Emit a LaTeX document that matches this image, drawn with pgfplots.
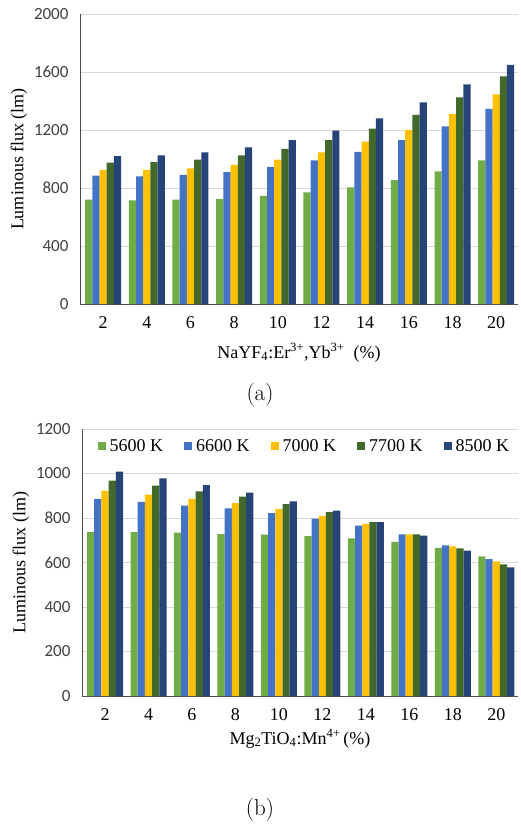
\documentclass[border=0pt]{standalone}
\usepackage{fontspec}
\usepackage{pgfplots}
\pgfplotsset{compat=1.18}
\newfontfamily\carlito{Carlito}
\newfontfamily\tnr{Liberation Serif}
\definecolor{cgreen}{HTML}{70AD47}
\definecolor{cblue}{HTML}{4472C4}
\definecolor{cyellow}{HTML}{FFC000}
\definecolor{cdgreen}{HTML}{43682B}
\definecolor{cnavy}{HTML}{264478}
\definecolor{tickgray}{HTML}{404040}
\pgfplotsset{
  lumbars/.style={
    scale only axis,
    anchor=south west,
    ybar=0pt, bar width=7.2pt,
    xmin=0.47, xmax=10.5, ymin=0,
    xtick={1,...,10}, xticklabels={2,4,6,8,10,12,14,16,18,20},
    axis x line*=bottom, axis y line*=left,
    axis line style={draw=black!70, line width=0.8pt},
    every outer x axis line/.append style={-}, every outer y axis line/.append style={-},
    major tick length=0pt,
    ymajorgrids, major grid style={draw=black!15, line width=0.8pt},
    /pgf/number format/1000 sep={},
    /pgf/number format/assume math mode=true,
    yticklabel style={font=\carlito\fontsize{17}{17}\selectfont, text=tickgray, xshift=-8pt},
    xticklabel style={font=\tnr\fontsize{18}{18}\selectfont, yshift=-9pt},
    ylabel style={font=\tnr\fontsize{18}{20}\selectfont},
    ylabel={Luminous flux (lm)},
    legend image code/.code={\fill[##1] (0pt,-4pt) rectangle (8pt,4pt);},
  },
}
\begin{document}
\begin{tikzpicture}
\useasboundingbox (0pt,0pt) rectangle (520pt,-830pt);
\begin{axis}[lumbars, at={(80pt,-304pt)}, width=438pt, height=290pt,
  ymax=2000, ytick={0,400,...,2000},
  xlabel style={font=\tnr\fontsize{18}{20}\selectfont, yshift=-8pt},
  xlabel={NaYF\textsubscript{4}:Er\textsuperscript{3+},Yb\textsuperscript{3+}\ \ (\%)}]
\addplot[fill=cgreen, draw=none] coordinates {(1,720) (2,715) (3,720) (4,725) (5,745) (6,770) (7,805) (8,855) (9,915) (10,990)};
\addplot[fill=cblue, draw=none] coordinates {(1,885) (2,880) (3,890) (4,910) (5,945) (6,990) (7,1050) (8,1130) (9,1225) (10,1345)};
\addplot[fill=cyellow, draw=none] coordinates {(1,925) (2,925) (3,935) (4,960) (5,995) (6,1045) (7,1120) (8,1200) (9,1310) (10,1445)};
\addplot[fill=cdgreen, draw=none] coordinates {(1,975) (2,978) (3,995) (4,1025) (5,1070) (6,1130) (7,1210) (8,1305) (9,1425) (10,1570)};
\addplot[fill=cnavy, draw=none] coordinates {(1,1020) (2,1025) (3,1045) (4,1080) (5,1130) (6,1195) (7,1280) (8,1390) (9,1515) (10,1650)};
\end{axis}
\node[font=\fontsize{23}{26}\selectfont] at (260pt,-395pt) {(a)};
\begin{axis}[lumbars, at={(82pt,-696pt)}, width=436pt, height=267pt,
  ymax=1200, ytick={0,200,...,1200},
  xlabel style={font=\tnr\fontsize{18}{20}\selectfont, yshift=-2pt},
  xlabel={Mg\textsubscript{2}TiO\textsubscript{4}:Mn\textsuperscript{4+}\,(\%)},
  legend style={at={(0.51,1)}, anchor=north, yshift=-6pt, draw=none, fill=none,
    font=\tnr\fontsize{18}{18}\selectfont, legend columns=5,
    /tikz/every even column/.append style={column sep=19pt},
    /tikz/every odd column/.append style={column sep=2pt}},
  legend cell align=left]
\addplot[fill=cgreen, draw=none] coordinates {(1,738) (2,736) (3,734) (4,728) (5,725) (6,719) (7,708) (8,693) (9,666) (10,628)};
\addplot[fill=cblue, draw=none] coordinates {(1,886) (2,873) (3,856) (4,843) (5,822) (6,797) (7,766) (8,726) (9,677) (10,615)};
\addplot[fill=cyellow, draw=none] coordinates {(1,922) (2,905) (3,886) (4,867) (5,840) (6,810) (7,774) (8,726) (9,672) (10,605)};
\addplot[fill=cdgreen, draw=none] coordinates {(1,968) (2,946) (3,920) (4,896) (5,862) (6,826) (7,781) (8,726) (9,663) (10,592)};
\addplot[fill=cnavy, draw=none] coordinates {(1,1008) (2,978) (3,948) (4,914) (5,875) (6,833) (7,781) (8,721) (9,653) (10,578)};
\legend{5600 K, 6600 K, 7000 K, 7700 K, 8500 K}
\end{axis}
\node[font=\fontsize{23}{26}\selectfont] at (260pt,-810pt) {(b)};
\end{tikzpicture}
\end{document}
